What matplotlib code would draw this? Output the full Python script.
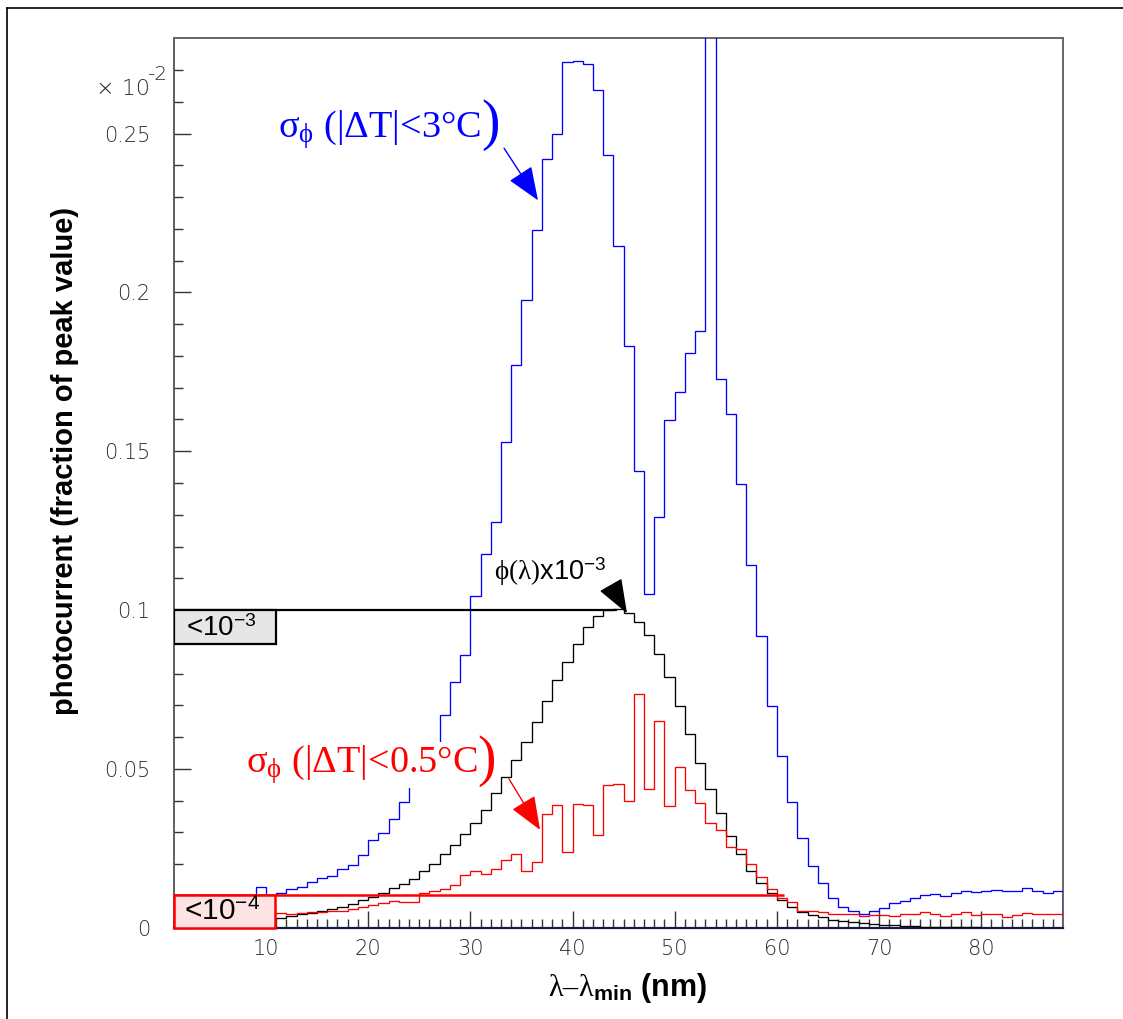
import numpy as np
import matplotlib
matplotlib.use("Agg")
import matplotlib.pyplot as plt
from matplotlib.lines import Line2D
from matplotlib.patches import Rectangle

plt.rcParams['font.family'] = ['Liberation Sans', 'DejaVu Sans']
plt.rcParams['mathtext.fontset'] = 'custom'
plt.rcParams['mathtext.rm'] = 'Liberation Serif'
plt.rcParams['mathtext.it'] = 'Liberation Serif:italic'
plt.rcParams['mathtext.bf'] = 'Liberation Sans:bold'
plt.rcParams['mathtext.sf'] = 'Liberation Sans'

# ---------------- data (1 nm bins, lambda - lambda_min from 1 to 88) ----------------
bin_edges = np.arange(1, 89)

sigma_3C = [0.0090, 0.0092, 0.0094, 0.0095, 0.0096, 0.0098, 0.0099, 0.0100, 0.0129, 0.0102,
            0.0110, 0.0121, 0.0129, 0.0143, 0.0156, 0.0163, 0.0186, 0.0197, 0.0229, 0.0276,
            0.0299, 0.0342, 0.0397, 0.0450, 0.0500, 0.0560, 0.0670, 0.0775, 0.0859, 0.1045,
            0.1177, 0.1278, 0.1528, 0.1773, 0.1977, 0.2196, 0.2419, 0.2498, 0.2725, 0.2728,
            0.2718, 0.2637, 0.2432, 0.2147, 0.1832, 0.1437, 0.1052, 0.1294, 0.1599, 0.1686,
            0.1809, 0.1880, 0.4000, 0.1728, 0.1618, 0.1398, 0.1143, 0.0918, 0.0699, 0.0542,
            0.0395, 0.0281, 0.0194, 0.0140, 0.0092, 0.0064, 0.0053, 0.0044, 0.0053, 0.0063,
            0.0077, 0.0083, 0.0094, 0.0104, 0.0106, 0.0100, 0.0109, 0.0116, 0.0113, 0.0114,
            0.0120, 0.0116, 0.0116, 0.0124, 0.0114, 0.0110, 0.0117]

phi_1e3 = [0.0012, 0.0013, 0.0014, 0.0016, 0.0017, 0.0019, 0.0021, 0.0023, 0.0025, 0.0027,
           0.0030, 0.0037, 0.0042, 0.0047, 0.0053, 0.0058, 0.0066, 0.0075, 0.0086, 0.0096,
           0.0108, 0.0124, 0.0137, 0.0152, 0.0177, 0.0202, 0.0232, 0.0260, 0.0294, 0.0330,
           0.0372, 0.0423, 0.0475, 0.0527, 0.0585, 0.0648, 0.0714, 0.0779, 0.0836, 0.0894,
           0.0947, 0.0980, 0.0999, 0.1002, 0.0991, 0.0962, 0.0920, 0.0861, 0.0789, 0.0698,
           0.0609, 0.0519, 0.0438, 0.0362, 0.0290, 0.0233, 0.0177, 0.0141, 0.0108, 0.0086,
           0.0064, 0.0048, 0.0040, 0.0033, 0.0024, 0.0021, 0.0018, 0.0016, 0.0012, 0.0009,
           0.0008, 0.0006, 0.0004, 0.0003, 0.0003, 0.0002, 0.0002, 0.0001, 0.0001, 0.0000,
           0.0000, 0.0000, 0.0000, 0.0000, 0.0000, 0.0000, 0.0000]

sigma_05C = [0.0030, 0.0031, 0.0032, 0.0033, 0.0034, 0.0035, 0.0036, 0.0038, 0.0040, 0.0043,
             0.0045, 0.0042, 0.0045, 0.0048, 0.0050, 0.0053, 0.0053, 0.0058, 0.0064, 0.0071,
             0.0077, 0.0084, 0.0080, 0.0080, 0.0110, 0.0116, 0.0122, 0.0136, 0.0166, 0.0179,
             0.0169, 0.0184, 0.0213, 0.0231, 0.0178, 0.0208, 0.0358, 0.0386, 0.0237, 0.0391,
             0.0386, 0.0292, 0.0449, 0.0451, 0.0398, 0.0737, 0.0436, 0.0651, 0.0384, 0.0506,
             0.0433, 0.0394, 0.0330, 0.0309, 0.0255, 0.0247, 0.0202, 0.0161, 0.0121, 0.0093,
             0.0082, 0.0053, 0.0053, 0.0050, 0.0044, 0.0042, 0.0044, 0.0037, 0.0040, 0.0040,
             0.0038, 0.0042, 0.0044, 0.0049, 0.0042, 0.0037, 0.0044, 0.0049, 0.0040, 0.0042,
             0.0042, 0.0035, 0.0040, 0.0045, 0.0042, 0.0044, 0.0042]

x_ticks = [10, 20, 30, 40, 50, 60, 70, 80]
x_tick_labels = ['10', '20', '30', '40', '50', '60', '70', '80']
y_ticks = [0, 0.05, 0.1, 0.15, 0.2, 0.25]
y_tick_labels = ['0', '0.05', '0.1', '0.15', '0.2', '0.25']

level_1e3 = 0.1
level_1e4 = 0.01045

# ---------------- figure ----------------
W, H = 1123, 1019
fig = plt.figure(figsize=(W / 100, H / 100), dpi=100)
ax = fig.add_axes([174 / W, (H - 927.7) / H, (1063 - 174) / W, (927.7 - 38.3) / H])
ax.set_xlim(1, 88)
ax.set_ylim(0, 0.28)

lw = 0.95
ax.stairs(sigma_3C, bin_edges, color='#0000ff', lw=lw, zorder=3)
ax.stairs(phi_1e3, bin_edges, color='black', lw=lw, zorder=3)
ax.stairs(sigma_05C, bin_edges, color='#ff0000', lw=lw, zorder=3)

# reference lines and boxes
ax.plot([1, 44.35], [level_1e3, level_1e3], color='black', lw=1.6, zorder=4, solid_capstyle='butt')
ax.plot([1, 60.7], [level_1e4, level_1e4], color='#ff0000', lw=1.8, zorder=4, solid_capstyle='butt')
ax.add_patch(Rectangle((1, 0.0893), 9.98, level_1e3 - 0.0893, facecolor='#e6e6e6',
                       edgecolor='black', lw=1.6, zorder=5))
ax.add_patch(Rectangle((1, 0.0), 9.9, level_1e4, facecolor='#fde3e3',
                       edgecolor='#ff0000', lw=1.8, zorder=5, clip_on=False))
ax.text(5.6, 0.0940, r'<10$^{\mathsf{-3}}$', fontsize=20, ha='center', va='center', zorder=6)
ax.text(5.7, 0.0050, r'<10$^{\mathsf{-4}}$', fontsize=21.5, ha='center', va='center', zorder=6)

# arrows
def arrow(tail, tip, color, hl, hw, ms):
    ax.annotate('', xy=tip, xytext=tail,
                arrowprops=dict(arrowstyle='-|>,head_length=%g,head_width=%g' % (hl, hw),
                                color=color, lw=1.0, mutation_scale=ms,
                                shrinkA=0, shrinkB=0), zorder=6)

arrow((33.30, 0.2454), (36.62, 0.2290), '#0000ff', 0.75, 0.3, 28)
arrow((43.87, 0.1072), (45.33, 0.0990), 'black', 0.8, 0.3, 27)
arrow((33.79, 0.0468), (36.82, 0.0308), '#ff0000', 0.75, 0.3, 28)

# labels on curves
tb = ax.text(11.2, 0.2487, r'$\mathrm{σ}_{\mathrm{ϕ}}$ (|ΔT|<3°C', family='Liberation Serif',
             fontsize=27.5, color='#0000ff', ha='left', va='baseline', zorder=6)
ax.annotate(')', xy=(1, 0.6), xycoords=tb, family='Liberation Serif', fontsize=40,
            color='#0000ff', ha='left', va='center', zorder=6)

tr = ax.text(8.0, 0.0487, r'$\mathrm{σ}_{\mathrm{ϕ}}$ (|ΔT|<0.5°C', family='Liberation Serif',
             fontsize=27.5, color='#ff0000', ha='left', va='baseline', zorder=6,
             bbox=dict(facecolor='white', edgecolor='none', pad=1))
ax.annotate(')', xy=(1, 0.6), xycoords=tr, family='Liberation Serif', fontsize=40,
            color='#ff0000', ha='left', va='center', zorder=6,
            bbox=dict(facecolor='white', edgecolor='none', pad=0))

ax.text(32.3, 0.1095, r'$\mathrm{ϕ(λ)}$x10$^{\mathsf{-3}}$', fontsize=19.5, color='black',
        ha='left', va='baseline', zorder=6)

# axes styling
ax.set_xticks(x_ticks)
ax.set_xticklabels(x_tick_labels)
ax.set_xticks(np.arange(2, 88, 1), minor=True)
ax.set_yticks(y_ticks)
ax.set_yticklabels(y_tick_labels)
ax.set_yticks(np.arange(0.01, 0.28, 0.01), minor=True)
ax.tick_params(which='both', direction='in', color='#333333', width=1.0,
               top=False, right=False, labelsize=15, labelcolor='#2a2a2a')
ax.tick_params(which='major', length=12.3)
ax.tick_params(which='minor', length=6.5)
ax.tick_params(axis='y', pad=17)
ax.tick_params(axis='x', pad=8)
for lab in ax.get_xticklabels() + ax.get_yticklabels():
    lab.set_family('DejaVu Sans')
    lab.set_fontweight('light')

for side in ['top', 'right']:
    ax.spines[side].set_color('#666666')
    ax.spines[side].set_linewidth(1.4)
ax.spines['left'].set_color('#444444')
ax.spines['left'].set_linewidth(1.2)
ax.spines['bottom'].set_color('#1a1a4a')
ax.spines['bottom'].set_linewidth(1.6)

fig.text(65 / W, 1 - 461 / H, 'photocurrent (fraction of peak value)', rotation=90,
         fontsize=21, fontweight='bold', ha='center', va='center')
fig.text(627 / W, 1 - 988 / H, r'$\mathrm{λ–λ}_{\mathbf{min}}$ (nm)', fontsize=22,
         fontweight='bold', ha='center', va='center')

# axis multiplier "x 10^-2"
fig.text(96 / W, 1 - 95 / H, '× 10', fontsize=16, color='#2a2a2a',
         family='DejaVu Sans', fontweight='light', ha='left', va='baseline')
fig.text(147 / W, 1 - 80 / H, '-2', fontsize=14.5, color='#2a2a2a',
         family='DejaVu Sans', fontweight='light', ha='left', va='baseline')

# outer frame (top and left edges visible)
fig.add_artist(Line2D([7 / W, 1.0], [1 - 8 / H, 1 - 8 / H], color='black', lw=1.2,
                      transform=fig.transFigure))
fig.add_artist(Line2D([7 / W, 7 / W], [0.0, 1 - 8 / H], color='black', lw=1.2,
                      transform=fig.transFigure))

fig.savefig('out.png', dpi=100)
